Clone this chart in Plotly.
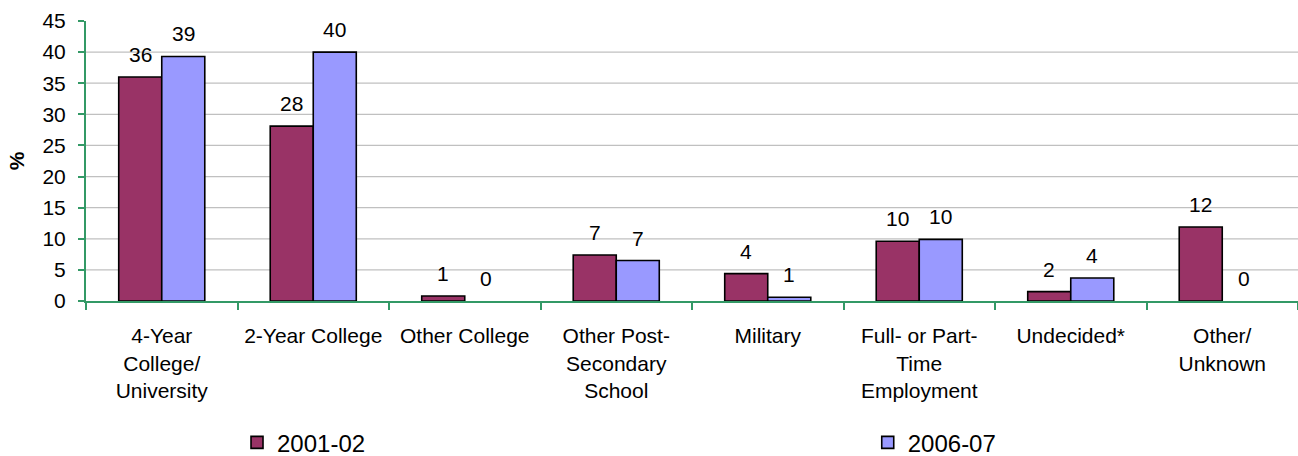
import plotly.graph_objects as go

categories = ["4-Year<br>College/<br>University", "2-Year College", "Other College",
              "Other Post-<br>Secondary<br>School", "Military",
              "Full- or Part-<br>Time<br>Employment", "Undecided*", "Other/<br>Unknown"]
series_names = ["2001-02", "2006-07"]
values_2001 = [36.0, 28.1, 0.8, 7.4, 4.4, 9.6, 1.5, 11.9]
values_2006 = [39.3, 40.0, 0.0, 6.5, 0.6, 9.9, 3.7, 0.0]
labels_2001 = [36, 28, 1, 7, 4, 10, 2, 12]
labels_2006 = [39, 40, 0, 7, 1, 10, 4, 0]
y_ticks = [0, 5, 10, 15, 20, 25, 30, 35, 40, 45]
grid_vals = [5, 10, 15, 20, 25, 30, 35, 40]

colors = ["#993366", "#9999FF"]
FONT = "Liberation Sans, Arial, sans-serif"

fig = go.Figure()
for name, vals, col, leg in zip(series_names, [values_2001, values_2006], colors,
                                ["legend", "legend2"]):
    fig.add_trace(go.Bar(x=categories, y=vals, name=name, legend=leg,
                         marker=dict(color=col,
                                     line=dict(color="black",
                                               width=[1.6 if v > 0 else 0 for v in vals])),
                         hoverinfo="skip"))

annotations = []
for vals, labs, shift in [(values_2001, labels_2001, -21.5), (values_2006, labels_2006, 21.5)]:
    for c, v, l in zip(categories, vals, labs):
        annotations.append(dict(x=c, y=v, text=str(l), showarrow=False, xshift=shift,
                                yshift=9, yanchor="bottom", xref="x", yref="y",
                                font=dict(family=FONT, size=21, color="black")))

shapes = [dict(type="line", xref="paper", x0=0, x1=1, yref="y", y0=g, y1=g,
               line=dict(color="#C0C0C0", width=1.3), layer="below") for g in grid_vals]

legend_common = dict(orientation="h", xanchor="left", yanchor="middle",
                     yref="container", y=0.029, xref="container",
                     font=dict(family=FONT, size=24, color="black"),
                     bgcolor="rgba(0,0,0,0)")

fig.update_layout(
    width=1298, height=456,
    margin=dict(l=86, r=0, t=21, b=155),
    paper_bgcolor="white", plot_bgcolor="white",
    barmode="group", bargap=0.432, bargroupgap=0,
    font=dict(family=FONT, size=21, color="black"),
    showlegend=True,
    legend=dict(x=(86 + 0.1246 * 1212) / 1298, **legend_common),
    legend2=dict(x=(86 + 0.645 * 1212) / 1298, **legend_common),
    annotations=annotations,
    shapes=shapes,
)
fig.update_xaxes(showline=True, linecolor="#339966", linewidth=2, ticks="outside",
                 tickson="boundaries", ticklen=7, tickcolor="#339966", tickwidth=2,
                 showgrid=False, ticklabelstandoff=15, automargin=False,
                 tickfont=dict(family=FONT, size=21, color="black"))
fig.update_yaxes(range=[0, 45], tickvals=y_ticks, showline=True, linecolor="#339966",
                 linewidth=2, ticks="outside", ticklen=6, tickcolor="#339966", tickwidth=2,
                 showgrid=False, zeroline=False, ticklabelstandoff=8, automargin=False,
                 tickfont=dict(family=FONT, size=21, color="black"),
                 title=dict(text="<b>%</b>", font=dict(family=FONT, size=21), standoff=12))

fig.write_html("out.html")
